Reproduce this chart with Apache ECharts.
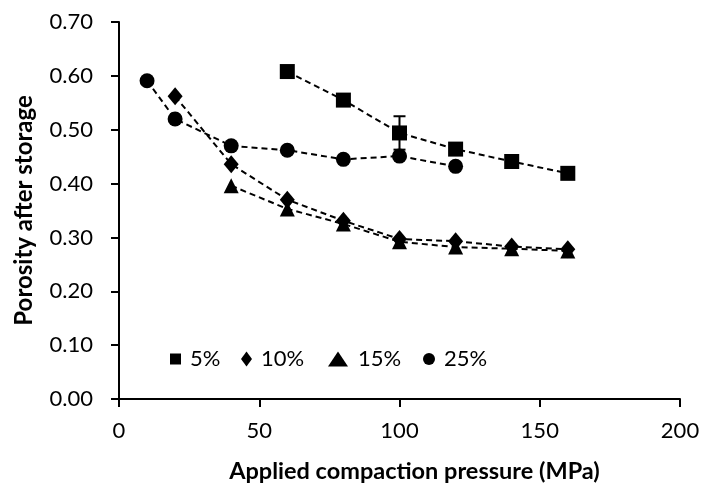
<!DOCTYPE html>
<html>
<head>
<meta charset="utf-8">
<script src="https://cdn.jsdelivr.net/npm/echarts@6/dist/echarts.min.js"></script>
<style>html,body{margin:0;padding:0;background:#fff}#c{width:704px;height:488px}</style>
</head>
<body>
<div id="c"></div>
<script>
const xTicks = [0, 50, 100, 150, 200];
const yTicks = [0, 0.1, 0.2, 0.3, 0.4, 0.5, 0.6, 0.7];

const p5 = [60, 80, 100, 120, 140, 160];
const v5 = [0.608, 0.555, 0.494, 0.464, 0.441, 0.419];
const e5 = [0, 0, 0.031, 0, 0, 0];

const p10 = [20, 40, 60, 80, 100, 120, 140, 160];
const v10 = [0.562, 0.436, 0.370, 0.331, 0.297, 0.293, 0.283, 0.278];

const p15 = [40, 60, 80, 100, 120, 140, 160];
const v15 = [0.396, 0.353, 0.325, 0.292, 0.282, 0.279, 0.275];

const p25 = [10, 20, 40, 60, 80, 100, 120];
const v25 = [0.591, 0.520, 0.470, 0.462, 0.445, 0.451, 0.432];

const names = ['5%', '10%', '15%', '25%'];

const FONT = 'Lato';
const zip = (a, b) => a.map((x, i) => [x, b[i]]);

const lineStyle = { color: '#000', width: 2, type: [6, 4] };
function mk(name, xs, ys, symbol, size) {
  return {
    name, type: 'line', data: zip(xs, ys), symbol, symbolSize: size,
    lineStyle, itemStyle: { color: '#000' }, z: 3
  };
}
function lg(name, icon, left, w, h, pad) {
  return {
    left, top: 343, itemWidth: w, itemHeight: h, selectedMode: false,
    textStyle: { fontFamily: FONT, fontSize: 22, color: '#000', padding: [0, 0, 0, pad] },
    data: [{ name, icon }]
  };
}

const errData = p5.map((x, i) => [x, v5[i], e5[i]]).filter(d => d[2] > 0);

const chart = echarts.init(document.getElementById('c'));
chart.setOption({
  animation: false,
  grid: { left: 119, right: 24, top: 22, bottom: 87 },
  legend: [
    lg(names[0], 'rect', 165, 11, 11, 4),
    lg(names[1], 'diamond', 236, 11, 15, 4),
    lg(names[2], 'triangle', 323, 20, 15, 5),
    lg(names[3], 'circle', 418, 12, 12, 4)
  ],
  xAxis: {
    type: 'value', min: xTicks[0], max: xTicks[xTicks.length - 1], interval: 50,
    name: 'Applied compaction pressure (MPa)', nameLocation: 'middle', nameGap: 60,
    nameTextStyle: { fontFamily: FONT, fontSize: 23.5, fontWeight: 'bold', color: '#000',
      padding: [0, 0, 0, 30] },
    axisLine: { lineStyle: { color: '#000', width: 2 } },
    axisTick: { length: 8, lineStyle: { color: '#000', width: 2 } },
    axisLabel: { fontFamily: FONT, fontSize: 22, color: '#000', margin: 21 },
    splitLine: { show: false }
  },
  yAxis: {
    type: 'value', min: yTicks[0], max: yTicks[yTicks.length - 1], interval: 0.1,
    name: 'Porosity after storage', nameLocation: 'middle', nameGap: 83,
    nameTextStyle: { fontFamily: FONT, fontSize: 24, fontWeight: 'bold', color: '#000' },
    axisLine: { show: true, lineStyle: { color: '#000', width: 2 } },
    axisTick: { show: true, length: 8, lineStyle: { color: '#000', width: 2 } },
    axisLabel: { fontFamily: FONT, fontSize: 22, color: '#000', margin: 26,
      formatter: v => v.toFixed(2) },
    splitLine: { show: false }
  },
  series: [
    {
      type: 'custom', name: 'err5', data: errData, z: 2,
      renderItem: (params, api) => {
        const x = api.value(0), y = api.value(1), e = api.value(2);
        const top = api.coord([x, y + e]);
        const bot = api.coord([x, y - e]);
        const hw = 6;
        return {
          type: 'group', children: [
            { type: 'line', shape: { x1: top[0], y1: top[1], x2: bot[0], y2: bot[1] }, style: { stroke: '#000', lineWidth: 2 } },
            { type: 'line', shape: { x1: top[0] - hw, y1: top[1], x2: top[0] + hw, y2: top[1] }, style: { stroke: '#000', lineWidth: 2 } },
            { type: 'line', shape: { x1: bot[0] - hw, y1: bot[1], x2: bot[0] + hw, y2: bot[1] }, style: { stroke: '#000', lineWidth: 2 } }
          ]
        };
      }
    },
    mk(names[0], p5, v5, 'rect', 15),
    mk(names[1], p10, v10, 'diamond', [15, 18]),
    mk(names[2], p15, v15, 'triangle', 15),
    mk(names[3], p25, v25, 'circle', 15)
  ]
});
</script>
</body>
</html>
